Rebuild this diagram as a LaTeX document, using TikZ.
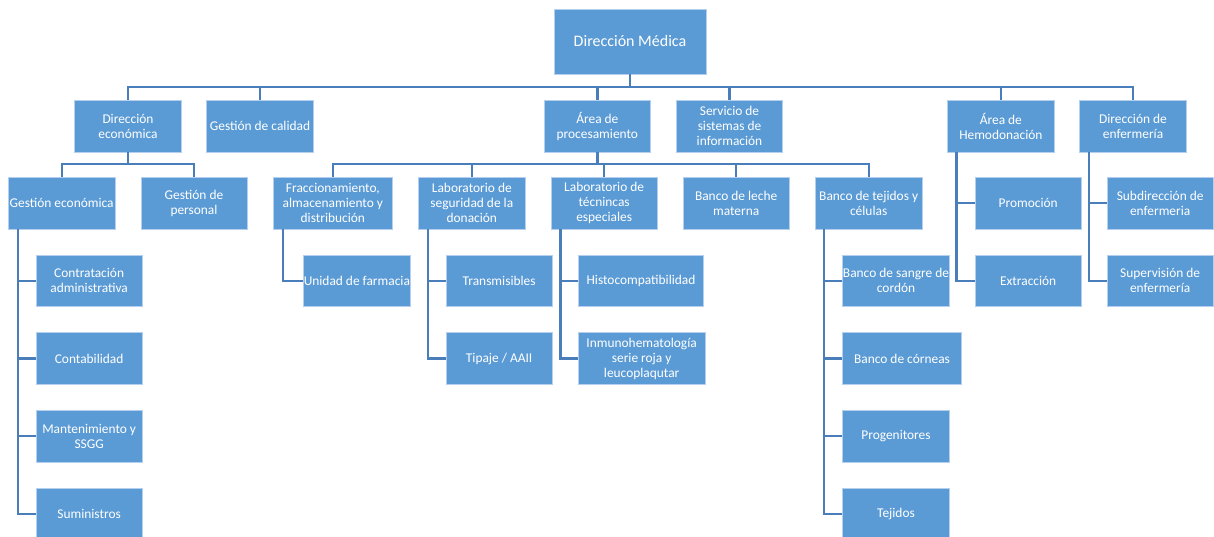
\documentclass[tikz,border=0pt]{standalone}
\usepackage{fontspec}
\setmainfont{Carlito}
\usetikzlibrary{calc}
\definecolor{boxfill}{RGB}{91,155,213}
\definecolor{boxedge}{RGB}{180,208,238}
\definecolor{connc}{RGB}{74,126,187}
\tikzset{
  box/.style={rectangle, fill=boxfill, draw=boxedge, line width=0.6pt, text=white,
    align=center, inner sep=0pt, font=\fontsize{13.4}{15}\selectfont},
  link/.style={draw=connc, line width=2.3pt},
}
\newcommand\bx[6]{\node[box, minimum width={(#4-#2)*1pt}, minimum height={(#5-#3)*1pt}]
  (#1) at ({(#2+#4)/2},{(#3+#5)/2}) {#6};}
\begin{document}
\begin{tikzpicture}[x=1pt,y=-1pt]
\useasboundingbox (0,0) rectangle (1214,536);
% root
\node[box, minimum width=152pt, minimum height=65pt, font=\fontsize{16}{19}\selectfont] (root) at (630,41.5) {Dirección Médica};
% level 1
\bx{de}{74.7}{100}{181.3}{152}{Dirección\\económica}
\bx{gc}{206.7}{100}{313.3}{152}{Gestión de calidad}
\bx{ap}{544}{100}{650.7}{152}{Área de\\procesamiento}
\bx{ssi}{676.3}{100}{782.7}{152}{Servicio de\\sistemas de\\información}
\bx{ah}{947.7}{100}{1054}{152}{Área de\\Hemodonación}
\bx{den}{1079.7}{100}{1186.3}{152}{Dirección de\\enfermería}
% level 2
\bx{gec}{8.3}{177}{115}{229}{Gestión económica}
\bx{gp}{141}{177}{247}{229}{Gestión de\\personal}
\bx{fr}{273}{177}{392.7}{229}{Fraccionamiento,\\almacenamiento y\\distribución}
\bx{ls}{418.7}{177}{525}{229}{Laboratorio de\\seguridad de la\\donación}
\bx{lt}{551}{177}{657.3}{229}{Laboratorio de\\técnincas\\especiales}
\bx{bl}{683}{177}{789.3}{229}{Banco de leche\\materna}
\bx{bt}{815.3}{177}{922}{229}{Banco de tejidos y\\células}
\bx{pr}{975}{177}{1081.3}{229}{Promoción}
\bx{sd}{1107}{177}{1213.3}{229}{Subdirección de\\enfermeria}
% row 1
\bx{ca}{36}{255}{142.3}{306.7}{Contratación\\administrativa}
\bx{uf}{303.7}{255}{410}{306.7}{Unidad de farmacia}
\bx{tr}{446}{255}{552.3}{306.7}{Transmisibles}
\bx{hi}{578.3}{255}{703.7}{306.7}{Histocompatibilidad}
\bx{bs}{842.7}{255}{949.3}{306.7}{Banco de sangre de\\cordón}
\bx{ex}{975}{255}{1081.3}{306.7}{Extracción}
\bx{su}{1107}{255}{1213.3}{306.7}{Supervisión de\\enfermería}
% row 2
\bx{co}{36}{332.7}{142.3}{384.3}{Contabilidad}
\bx{ti}{446}{332.7}{552.3}{384.3}{Tipaje / AAII}
\bx{in}{578.3}{332.7}{705}{384.3}{Inmunohematología\\serie roja y\\leucoplaqutar}
\bx{bc}{842.7}{332.7}{961.3}{384.3}{Banco de córneas}
% row 3
\bx{ma}{36}{410.3}{142.3}{462}{Mantenimiento y\\SSGG}
\bx{pg}{842.7}{410.3}{949.3}{462}{Progenitores}
% row 4
\bx{sm}{36}{488}{142.3}{540}{Suministros}
\bx{tj}{842.7}{488}{949.3}{540}{Tejidos}
% connectors: root
\foreach \c in {de,gc,ap,ssi,ah,den}
  \draw[link] (root.south) -- ++(0,13) -| (\c.north);
\foreach \c in {gec,gp}
  \draw[link] (de.south) -- ++(0,12) -| (\c.north);
\foreach \c in {fr,ls,lt,bl,bt}
  \draw[link] (ap.south) -- ++(0,12) -| (\c.north);
% side branches
\foreach \c in {ca,co,ma,sm}
  \draw[link] ([xshift=10pt]gec.south west) |- (\c.west);
\draw[link] ([xshift=10.5pt]fr.south west) |- (uf.west);
\foreach \c in {tr,ti}
  \draw[link] ([xshift=9.6pt]ls.south west) |- (\c.west);
\foreach \c in {hi,in}
  \draw[link] ([xshift=9.7pt]lt.south west) |- (\c.west);
\foreach \c in {bs,bc,pg,tj}
  \draw[link] ([xshift=9pt]bt.south west) |- (\c.west);
\foreach \c in {pr,ex}
  \draw[link] ([xshift=9pt]ah.south west) |- (\c.west);
\foreach \c in {sd,su}
  \draw[link] ([xshift=9.3pt]den.south west) |- (\c.west);
\end{tikzpicture}
\end{document}
